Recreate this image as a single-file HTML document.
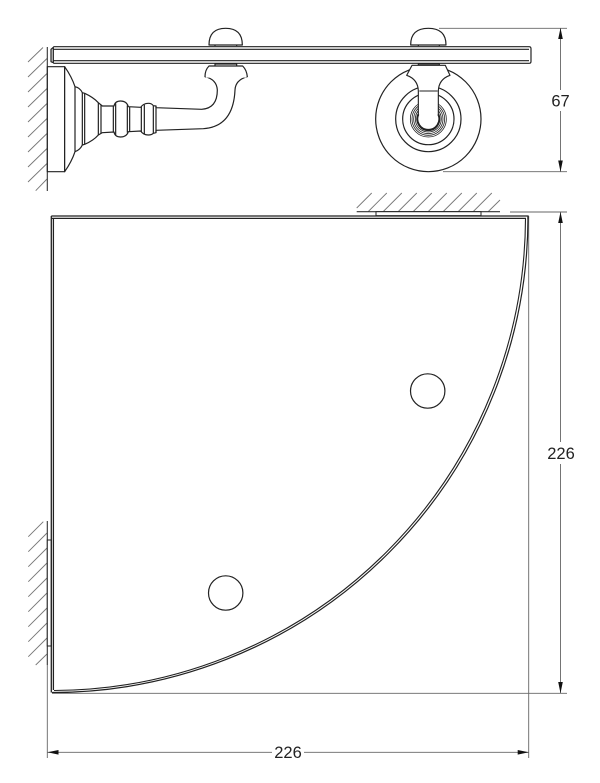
<!DOCTYPE html>
<html><head><meta charset="utf-8"><style>
html,body{margin:0;padding:0;background:#fff}
svg{display:block}
text{font-family:"Liberation Sans",sans-serif;font-size:16.5px;fill:#222;text-anchor:middle}
</style></head><body>
<svg width="600" height="783" viewBox="0 0 600 783" xmlns="http://www.w3.org/2000/svg">
<rect width="600" height="783" fill="#fff"/>
<!-- hatching -->
<g stroke="#777" stroke-width="0.9" fill="none">
<path d="M28,62L43,47.5M28,77L47,58.5M28,92L47,73.5M28,107L47,88.5M28,122L47,103.5M28,137L47,118.5M28,152L47,133.5M28,167L47,148.5M28,182L47,163.5M35.7,190.7L47,179"/>
<path d="M28.3,536.7L43.3,521.7M28.3,551.7L47,533M28.3,566.7L47,548M28.3,581.7L47,563M28.3,596.7L47,578M28.3,611.7L47,593M28.3,626.7L47,608M28.3,641.7L47,623M28.3,656.7L47,638M35.7,665L47,654"/>
<path d="M356.7,208L371.7,193M368.3,211.5L386.8,193M383.3,211.5L401.8,193M398.3,211.5L416.8,193M413.3,211.5L431.8,193M428.3,211.5L446.8,193M443.3,211.5L461.8,193M458.3,211.5L476.8,193M473.3,211.5L491.8,193M488.3,211.5L500,200"/>
</g>
<!-- walls -->
<g stroke="#333" stroke-width="1.1" fill="none">
<path d="M47.3,47V191M356.7,211.7H500M47.3,521V665"/>
</g>
<!-- dimension lines -->
<g stroke="#666" stroke-width="0.9" fill="none">
<path d="M439,28.3H567M443,171.7H567M510,212H567M52,693.3H567"/>
<path d="M560.5,28.3V171.7M560.5,212V693.3M47.3,665V758M528.7,216V758M47.3,752.3H528.7"/>
</g>
<g fill="#111">
<path d="M560.5,28L558.2,39H562.8ZM560.5,171.7L558.2,160.5H562.8ZM560.5,212L558.2,223H562.8ZM560.5,693.3L558.2,682H562.8Z"/>
<path d="M47.5,752.3L58.5,750V754.6ZM528.7,752.3L517.7,750V754.6Z"/>
</g>
<rect x="549" y="90" width="24" height="21" fill="#fff"/>
<rect x="545" y="442" width="32" height="22" fill="#fff"/>
<rect x="272" y="744" width="32" height="17" fill="#fff"/>
<text x="560.5" y="106.5">67</text>
<text x="561" y="459">226</text>
<text x="288" y="758">226</text>

<!-- side view: coords from 3x crop -->
<g transform="translate(20,20) scale(0.33333)" fill="#fff" stroke="#222" stroke-width="3.6" stroke-linejoin="round">
<path d="M567,75Q567,25 617,25Q667,25 667,75Z"/>
<path d="M585,78V74M650,78V74" fill="none"/>
<path d="M100,80H1527M100,88H1527M100,122H1527M100,130H1527" fill="none"/>
<path d="M100,82V128L93,125V88Z" fill="#ddd"/>
<path d="M1527,80Q1533,80 1533,86V124Q1533,130 1527,130" fill="none"/>
<path d="M585,138V132H650V138" fill="none"/>
<rect x="82" y="140" width="52" height="315"/>
<path d="M134,140Q155,170 165,200Q180,203 187,218L194,220Q220,232 235,248L247,258L282,258Q285,243 302,243Q320,243 325,260L362,262Q370,250 385,250Q395,250 400,257L408,258V263L545,268Q592,265 592,210Q590,178 555,170H682Q646,180 645,210Q640,320 550,326L408,331V338L400,340Q395,345 385,345Q370,345 362,333L325,335Q320,351 302,351Q285,351 282,336L247,338L235,345Q220,362 194,373L187,375Q180,390 165,395Q155,425 134,455Z"/>
<path d="M558,170H679" stroke="#fff" stroke-width="6" fill="none"/>
<path d="M555,170Q555,150 567,138H668Q680,150 682,170" />
<path d="M555,170H682" stroke="#222" stroke-width="2.4" fill="none" opacity="0"/>
<path d="M165,200V395M187,218V375M194,220V373M235,248V345M243,254V340M280,258V336M287,250V345M322,256V338M329,260V335M364,260V335M373,254V342M400,257V340M408,258V338" fill="none"/>
</g>

<!-- front view -->
<g transform="translate(340,20) scale(0.33333)" fill="none" stroke="#222" stroke-width="3.6" stroke-linejoin="round">
<path d="M212,75Q212,25 265,25Q318,25 318,75Z" fill="#fff"/>
<path d="M235,78V74M298,78V74"/>
<circle cx="265" cy="297" r="158" fill="#fff"/>
<circle cx="265" cy="297" r="98"/>
<circle cx="265" cy="297" r="77"/>
<g stroke-width="2.4">
<circle cx="265" cy="297" r="54"/><circle cx="265" cy="297" r="49"/><circle cx="265" cy="297" r="44"/><circle cx="265" cy="297" r="39"/>
</g>
<path d="M216,136H316L330,166Q296,178 295,213V285A33,33 0 1 1 235,285V213Q234,178 200,166Z" fill="#fff" stroke-width="3.4"/>
<path d="M238,213H293" stroke-width="3"/>
<path d="M235,136V132H298V136"/>
<path d="M235,283A33,33 0 1 0 295,283" stroke-width="6"/>
</g>

<!-- top view shelf -->
<g fill="none" stroke="#222">
<rect x="376" y="211.7" width="105" height="4" fill="#fff" stroke-width="1"/>
<rect x="47.3" y="540" width="4" height="106" fill="#fff" stroke-width="1"/>
<path d="M51.3,216H528V219" stroke-width="1.3"/>
<path d="M51.3,218.4H526" stroke-width="1.3"/>
<path d="M51.3,216V692.5" stroke-width="1.3"/>
<path d="M53.4,218.6V690" stroke-width="1.3"/>
<path d="M528,217A476,476 0 0 1 52,692.5" stroke-width="1.2"/>
<path d="M525.5,219A473.5,474 0 0 1 54,690.5" stroke-width="1.1"/>
<circle cx="427.7" cy="391" r="17.2" stroke-width="1.2" fill="#fff"/>
<circle cx="225.7" cy="593" r="17.2" stroke-width="1.2" fill="#fff"/>
</g>
</svg>
</body></html>
